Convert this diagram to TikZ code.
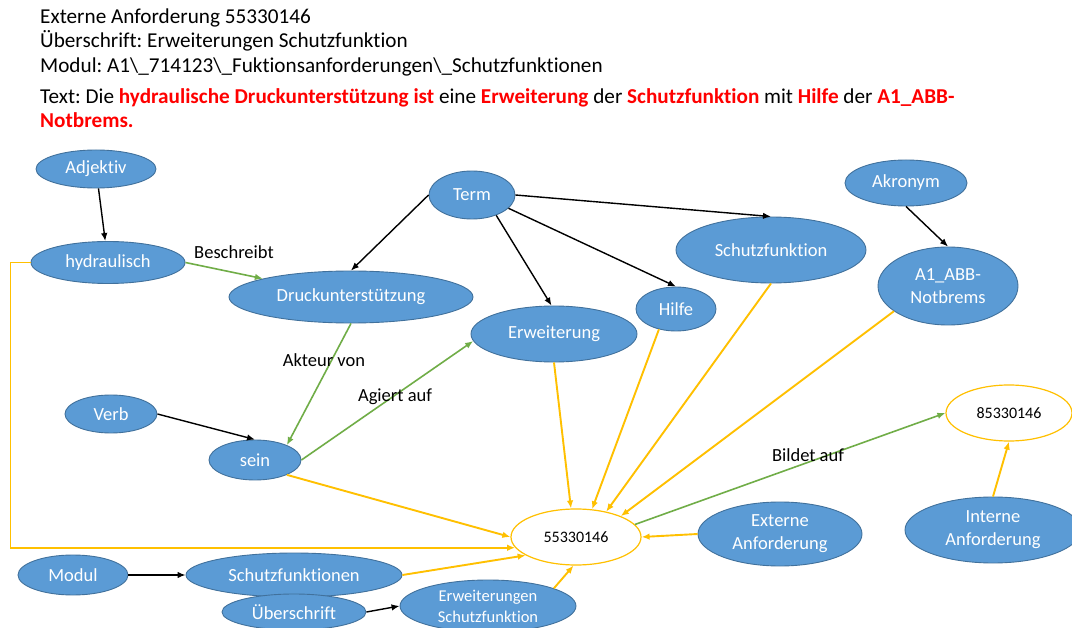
\documentclass[tikz,border=0pt]{standalone}
\usepackage{fontspec}
\setmainfont{Carlito}[Ligatures=NoCommon]
\usetikzlibrary{shapes.geometric,arrows.meta}
\definecolor{nodefill}{HTML}{5B9BD5}
\definecolor{nodeline}{HTML}{41719C}
\definecolor{linkorange}{HTML}{FFC000}
\definecolor{linkgreen}{HTML}{70AD47}
\definecolor{hlred}{HTML}{FF0000}
\newcommand\hl[1]{\textcolor{hlred}{\bfseries #1}}
\frenchspacing
\tikzset{
  concept/.style={ellipse, draw=nodeline, line width=0.9pt, fill=nodefill,
    text=white, inner sep=0pt, align=center,
    font=\fontsize{18.5}{23}\selectfont},
  reqnode/.style={ellipse, draw=linkorange, line width=1.2pt, fill=white,
    text=black, inner sep=0pt, font=\fontsize{16}{19}\selectfont},
  headline/.style={anchor=base west, inner sep=0pt,
    font=\fontsize{21.2}{25}\selectfont},
  linklabel/.style={inner sep=0pt, font=\fontsize{18.5}{22}\selectfont},
  tip/.style={-{Latex[length=8pt,width=6.5pt]}},
  isa/.style={tip, draw=black, line width=1.4pt},
  relation/.style={tip, draw=linkgreen, line width=1.6pt},
  source/.style={tip, draw=linkorange, line width=1.9pt},
}
\begin{document}
\begin{tikzpicture}[x=1pt,y=-1pt]
\useasboundingbox (0,0) rectangle (1072,628);
\fill[white] (0,0) rectangle (1072,628);

% header text
\node[headline] (h1) at (40,24) {Externe Anforderung 55330146};
\node[headline] (h2) at (40,48) {Überschrift: Erweiterungen Schutzfunktion};
\node[headline] (h3) at (40,73) {Modul: A1\textbackslash\_714123\textbackslash\_Fuktionsanforderungen\textbackslash\_Schutzfunktionen};
\node[headline] (h4) at (40,104) {Text: Die \hl{hydraulische Druckunterstützung ist} eine \hl{Erweiterung} der \hl{Schutzfunktion} mit \hl{Hilfe} der \hl{A1\_ABB-}};
\node[headline] (h5) at (40,128) {\hl{Notbrems.}};

% concept nodes
\node[concept, minimum width=120pt, minimum height=38pt] (adj) at (96,169) {Adjektiv};
\node[concept, minimum width=154pt, minimum height=42pt] (hyd) at (108,262.5) {hydraulisch};
\node[concept, minimum width=244pt, minimum height=52pt] (druck) at (351,297) {Druckunterstützung};
\node[concept, minimum width=86pt, minimum height=48pt] (term) at (472,195) {Term};
\node[concept, minimum width=190pt, minimum height=66pt] (schutz) at (771,250) {Schutzfunktion};
\node[concept, minimum width=122pt, minimum height=46pt] (akr) at (906,183) {Akronym};
\node[concept, minimum width=140pt, minimum height=78pt] (a1) at (948,286) {A1\_ABB-\\Notbrems};
\node[concept, minimum width=80pt, minimum height=44pt] (hilfe) at (676,309) {Hilfe};
\node[concept, minimum width=166pt, minimum height=56pt] (erw) at (554,334) {Erweiterung};
\node[concept, minimum width=92pt, minimum height=38pt] (verb) at (111,414) {Verb};
\node[concept, minimum width=92pt, minimum height=40pt] (sein) at (255,460) {sein};
\node[concept, minimum width=164pt, minimum height=64pt] (ext) at (780,534) {Externe\\Anforderung};
\node[concept, minimum width=176pt, minimum height=66pt] (int) at (993,530) {Interne\\Anforderung};
\node[concept, minimum width=110pt, minimum height=40pt] (modul) at (73,575) {Modul};
\node[concept, minimum width=216pt, minimum height=44pt] (schutzen) at (294,575) {Schutzfunktionen};
\node[concept, minimum width=144pt, minimum height=36pt] (ueb) at (294,612) {Überschrift};
\node[concept, minimum width=176pt, minimum height=52pt, font=\fontsize{16.5}{21}\selectfont] (erwsch) at (488,606) {Erweiterungen\\Schutzfunktion};

% requirement nodes
\node[reqnode, minimum width=130pt, minimum height=56pt] (ea) at (576,537) {55330146};
\node[reqnode, minimum width=126pt, minimum height=56pt] (ia) at (1009,413) {85330146};

% type links
\draw[isa] (adj) -- (hyd);
\draw[isa] (term.west) -- (druck.north);
\draw[isa] (term.-40) -- (erw.95);
\draw[isa] (term.-20) -- (hilfe.north);
\draw[isa] (term.east) -- (schutz.north);
\draw[isa] (akr.south) -- (a1.north);
\draw[isa] (verb.east) -- (sein.north);
\draw[isa] (modul.east) -- (schutzen.west);
\draw[isa] (ueb.east) -- (erwsch.west);

% semantic relations
\draw[relation] (hyd.east) -- (druck);
\draw[relation] (druck.south) -- (sein.25);
\draw[relation] (sein.east) -- (erw.185);
\draw[relation] (ea.12) -- (ia.west);
\node[linklabel] (lbeschreibt) at (234,252) {Beschreibt};
\node[linklabel] (lakteur) at (324,360) {Akteur von};
\node[linklabel] (lagiert) at (395,397) {Agiert auf};
\node[linklabel] (lbildet) at (808,455) {Bildet auf};

% sources of the requirements
\coordinate (hydturn) at (10.5,262.5);
\draw[source] (erw.south) -- (ea.100);
\draw[source] (hilfe.-130) -- (ea.60);
\draw[source] (schutz.south) -- (ea.40);
\draw[source] (a1.205) -- (ea.25);
\draw[source] (sein.-25) -- (ea.west);
\draw[source] (hyd.west) -- (hydturn) |- (ea.190);
\draw[source] (schutzen.east) -- (ea.-160);
\draw[source] (erwsch.15) -- (ea.-95);
\draw[source] (ext.west) -- (ea.east);
\draw[source] (int.north) -- (ia.south);
\end{tikzpicture}
\end{document}
